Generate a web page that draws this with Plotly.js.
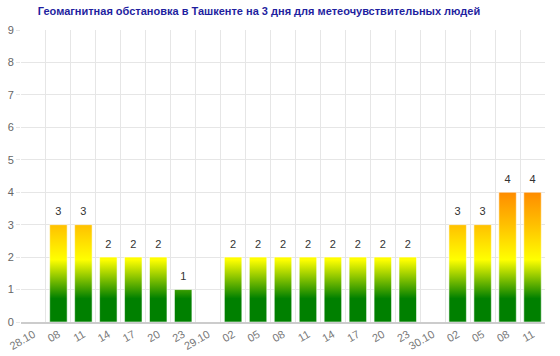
<!DOCTYPE html>
<html>
<head>
<meta charset="utf-8">
<script src="https://cdn.plot.ly/plotly-3.0.1.min.js"></script>
<style>html,body{margin:0;padding:0;background:#fff;}#chart{width:560px;height:356px;}</style>
</head>
<body>
<div id="chart"></div>
<script>
const titleText = 'Геомагнитная обстановка в Ташкенте на 3 дня для метеочувствительных людей';
const categories = ['28.10','08','11','14','17','20','23','29.10','02','05','08','11','14','17','20','23','30.10','02','05','08','11'];
const values = [null,3,3,2,2,2,1,null,2,2,2,2,2,2,2,2,null,3,3,4,4];
const yTicks = [0,1,2,3,4,5,6,7,8,9];

const halfWidth = 0.35;
const gradient = [[0,'#008000'],[0.18,'#008000'],[0.48,'#ffff00'],[0.75,'#ffc000'],[1,'#ff8c00']];

const idx = categories.map((c,i)=>i);
const traces = [];
values.forEach((v,i)=>{
  if (v === null || v === 0) return;
  traces.push({
    type:'scatter', mode:'lines',
    x:[i-halfWidth, i+halfWidth, i+halfWidth, i-halfWidth, i-halfWidth],
    y:[0,0,v,v,0],
    fill:'toself',
    fillgradient:{type:'vertical', colorscale:gradient, start:0, stop:4},
    line:{width:1, color:'rgba(255,255,255,0.55)'},
    hoverinfo:'skip', showlegend:false
  });
});
traces.push({
  type:'scatter', mode:'markers+text',
  x: idx.filter(i=>values[i]!==null),
  y: values.filter(v=>v!==null),
  text: values.filter(v=>v!==null).map(String),
  textposition:'top center',
  marker:{size:9, opacity:0},
  textfont:{size:11, color:'#333333'},
  hoverinfo:'skip', showlegend:false
});

const layout = {
  width:560, height:356,
  margin:{l:21, r:15, t:30, b:34},
  paper_bgcolor:'#ffffff', plot_bgcolor:'#ffffff',
  font:{family:'Liberation Sans, Arial, sans-serif', size:11, color:'#666666'},
  title:{text:titleText, x:259/560, xanchor:'center', xref:'container', y:1-11/356, yanchor:'middle', yref:'container',
         font:{size:11, color:'#1f1fa0', weight:'bold', family:'Liberation Sans, Arial, sans-serif'}},
  xaxis:{
    type:'linear', range:[-0.5,20.5], fixedrange:true,
    tickmode:'array', tickvals:idx, ticktext:categories, tickangle:-30,
    showgrid:false, zeroline:false, ticks:'',
    tickfont:{size:11, color:'#777777'},
    showline:true, linecolor:'#cccccc', linewidth:2,
    minor:{tickmode:'array', tickvals:idx.map(i=>i-0.5), showgrid:true, gridcolor:'#e6e6e6', gridwidth:1, ticks:''}
  },
  yaxis:{
    range:[0,9], tickmode:'array', tickvals:yTicks, fixedrange:true,
    showgrid:true, gridcolor:'#e6e6e6', zeroline:false,
    ticks:'outside', ticklen:4, tickcolor:'#e6e6e6',
    tickfont:{size:11, color:'#666666'}
  },
  showlegend:false
};
Plotly.newPlot('chart', traces, layout, {displayModeBar:false, staticPlot:true});
</script>
</body>
</html>
